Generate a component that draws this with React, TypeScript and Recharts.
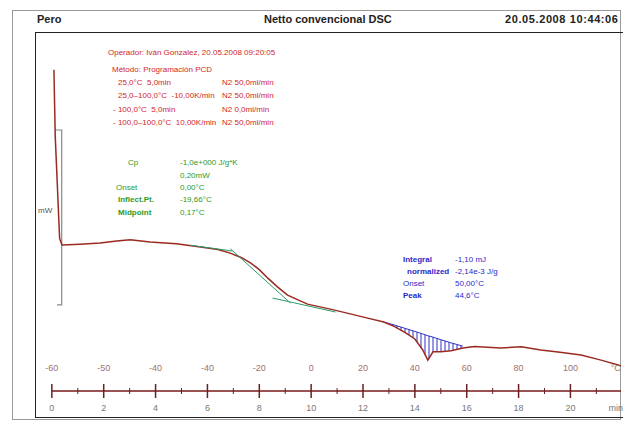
import { ComposedChart, Line, Area, XAxis, YAxis, ReferenceLine } from "recharts";

// DSC run, signal in mW against time in min
const mainTime = [0.08, 0.13, 0.3, 0.39, 1.09, 1.86, 2.5, 3.02, 3.79, 4.8, 5.73, 6.4, 6.88, 7.3, 7.66, 8.0, 8.32, 8.7, 9.09, 9.86, 10.87, 12.18, 12.8, 13.2, 13.6, 14.0, 14.3, 14.5, 14.7, 15.0, 15.4, 15.85, 16.3, 17.3, 18.1, 18.86, 19.6, 20.41, 21.18, 21.95];
const mainSignal = [6.45, 4.6, 1.75, 1.57, 1.59, 1.62, 1.68, 1.71, 1.65, 1.6, 1.51, 1.44, 1.34, 1.22, 1.07, 0.88, 0.65, 0.4, 0.17, -0.08, -0.24, -0.47, -0.58, -0.7, -0.86, -1.05, -1.35, -1.64, -1.41, -1.41, -1.38, -1.3, -1.26, -1.3, -1.27, -1.36, -1.42, -1.5, -1.64, -1.8];

// grey scale bracket at the start
const bracketTime = [0.12, 0.38, 0.38, 0.2];
const bracketSignal = [4.77, 4.77, -0.1, -0.1];

// glass transition tangents
const upperTime = [5.34, 6.96];
const upperSignal = [1.56, 1.4];
const inflTime = [6.89, 9.2];
const inflSignal = [1.46, -0.05];
const lowerTime = [8.51, 10.94];
const lowerSignal = [0.09, -0.3];

// peak integration
const peakTime = [12.8, 13.2, 13.6, 14.0, 14.3, 14.5, 14.7, 15.0, 15.4, 15.85];
const peakSignal = [-0.58, -0.7, -0.86, -1.05, -1.35, -1.64, -1.41, -1.41, -1.38, -1.3];
const peakBase = [-0.58, -0.66, -0.75, -0.84, -0.91, -0.96, -1.0, -1.07, -1.16, -1.25];

const timeTicks = [0, 1, 2, 3, 4, 5, 6, 7, 8, 9, 10, 11, 12, 13, 14, 15, 16, 17, 18, 19, 20, 21, 21.75];
const timeLabels = ["0", "2", "4", "6", "8", "10", "12", "14", "16", "18", "20", "min"];
const tempLabels = ["-60", "-50", "-40", "-40", "-20", "0", "20", "40", "60", "80", "100", "°C"];

const pts = (t: number[], v: number[]) => t.map((x, i) => ({ t: x, v: v[i] }));
const mainData = pts(mainTime, mainSignal);
const bracketData = pts(bracketTime, bracketSignal);
const upperData = pts(upperTime, upperSignal);
const inflData = pts(inflTime, inflSignal);
const lowerData = pts(lowerTime, lowerSignal);
const baseData = pts(peakTime, peakBase);
const peakData = peakTime.map((x, i) => ({ t: x, range: [peakSignal[i], peakBase[i]] }));

function TimeTick(props: any) {
  const { x, y, payload } = props;
  const v = payload.value;
  const last = v > 21;
  if (!last && v % 2 !== 0) {
    return <line x1={x} x2={x} y1={y - 3} y2={y + 3} stroke="#6a2020" />;
  }
  const idx = last ? 11 : v / 2;
  return (
    <g>
      {!last && <line x1={x} x2={x} y1={y - 7} y2={y + 7} stroke="#6a2020" strokeWidth={1.5} />}
      <text x={x} y={y - 20} textAnchor="middle" fontSize={9} fill="#a07070">
        {tempLabels[idx]}
      </text>
      <text x={x} y={y + 20} textAnchor="middle" fontSize={9} fill="#777">
        {timeLabels[idx]}
      </text>
    </g>
  );
}

const narrow = "'Liberation Sans Narrow', 'Liberation Sans', sans-serif";
const red = { color: "#d02828", fontSize: 8, position: "absolute" as const, whiteSpace: "pre" as const, fontFamily: narrow };
const green = { color: "#2a9a2a", fontSize: 8, position: "absolute" as const, whiteSpace: "pre" as const, fontFamily: narrow };
const blue = { color: "#2a2ac8", fontSize: 8, position: "absolute" as const, whiteSpace: "pre" as const, fontFamily: narrow };
const head = { fontSize: 11, fontWeight: 700, position: "absolute" as const, top: 13, color: "#222", fontFamily: narrow };

export default function App() {
  return (
    <div style={{ position: "relative", width: 623, height: 422, background: "#fff", fontFamily: "'Liberation Sans', Arial, sans-serif" }}>
      <style>{"body{margin:0}"}</style>
      <div style={{ position: "absolute", left: 12, top: 10, width: 609, height: 410, border: "1px solid #999", boxSizing: "border-box" }} />
      <div style={{ position: "absolute", left: 35, top: 32, width: 588, height: 386, border: "1.5px solid #222", borderRight: "none", boxSizing: "border-box" }} />

      <div style={{ ...head, left: 37 }}>Pero</div>
      <div style={{ ...head, left: 264 }}>Netto convencional DSC</div>
      <div style={{ ...head, left: 505, letterSpacing: 0.6 }}>20.05.2008 10:44:06</div>

      <ComposedChart width={623} height={422} data={mainData} margin={{ top: 32, right: 2, bottom: 0, left: 35 }} style={{ position: "absolute", left: 0, top: 0 }}>
        <defs>
          <pattern id="hatch" patternUnits="userSpaceOnUse" width={4} height={8}>
            <line x1={1} x2={1} y1={0} y2={8} stroke="#3030c8" strokeWidth={1} />
          </pattern>
        </defs>
        <XAxis
          type="number"
          dataKey="t"
          domain={[-0.65, 21.95]}
          allowDataOverflow
          ticks={timeTicks}
          interval={0}
          tick={<TimeTick />}
          tickLine={false}
          axisLine={false}
          tickSize={0}
          tickMargin={0}
          height={31}
        />
        <YAxis type="number" domain={[-2.5, 7.5]} hide allowDataOverflow />
        <ReferenceLine segment={[{ x: 0, y: -2.5 }, { x: 21.95, y: -2.5 }]} stroke="#7a1818" strokeWidth={1.5} />
        <Area data={peakData} dataKey="range" type="linear" stroke="none" fill="url(#hatch)" fillOpacity={1} isAnimationActive={false} />
        <Line data={baseData} dataKey="v" type="linear" stroke="#3030c8" strokeWidth={1} dot={false} isAnimationActive={false} />
        <Line data={bracketData} dataKey="v" type="linear" stroke="#888" strokeWidth={1.2} dot={false} isAnimationActive={false} />
        <Line data={mainData} dataKey="v" type="linear" stroke="#9a2a20" strokeWidth={1.5} dot={false} isAnimationActive={false} />
        <Line data={upperData} dataKey="v" type="linear" stroke="#2a9a6a" strokeWidth={1} dot={false} isAnimationActive={false} />
        <Line data={inflData} dataKey="v" type="linear" stroke="#2a9a6a" strokeWidth={1} dot={false} isAnimationActive={false} />
        <Line data={lowerData} dataKey="v" type="linear" stroke="#2a9a6a" strokeWidth={1} dot={false} isAnimationActive={false} />
      </ComposedChart>

      <div style={{ position: "absolute", left: 38, top: 206, fontSize: 8, color: "#555" }}>mW</div>

      <div style={{ ...red, left: 108, top: 48 }}>Operador: Iván Gonzalez, 20.05.2008 09:20:05</div>
      <div style={{ ...red, left: 112, top: 65 }}>Método: Programación PCD</div>
      <div style={{ ...red, left: 118, top: 78 }}>25,0°C  5,0min</div>
      <div style={{ ...red, left: 222, top: 78 }}>N2 50,0ml/min</div>
      <div style={{ ...red, left: 118, top: 91 }}>25,0–100,0°C  -10,00K/min</div>
      <div style={{ ...red, left: 222, top: 91 }}>N2 50,0ml/min</div>
      <div style={{ ...red, left: 113, top: 105 }}>- 100,0°C  5,0min</div>
      <div style={{ ...red, left: 222, top: 105 }}>N2 0,0ml/min</div>
      <div style={{ ...red, left: 113, top: 118 }}>- 100,0–100,0°C  10,00K/min</div>
      <div style={{ ...red, left: 222, top: 118 }}>N2 50,0ml/min</div>

      <div style={{ ...green, left: 128, top: 158 }}>Cp</div>
      <div style={{ ...green, left: 180, top: 158 }}>-1,0e+000 J/g*K</div>
      <div style={{ ...green, left: 180, top: 171 }}>0,20mW</div>
      <div style={{ ...green, left: 116, top: 183 }}>Onset</div>
      <div style={{ ...green, left: 180, top: 183 }}>0,00°C</div>
      <div style={{ ...green, left: 118, top: 195, fontWeight: 700 }}>Inflect.Pt.</div>
      <div style={{ ...green, left: 180, top: 195 }}>-19,66°C</div>
      <div style={{ ...green, left: 118, top: 208, fontWeight: 700 }}>Midpoint</div>
      <div style={{ ...green, left: 180, top: 208 }}>0,17°C</div>

      <div style={{ ...blue, left: 403, top: 255, fontWeight: 700 }}>Integral</div>
      <div style={{ ...blue, left: 455, top: 255 }}>-1,10 mJ</div>
      <div style={{ ...blue, left: 407, top: 267, fontWeight: 700 }}>normalized</div>
      <div style={{ ...blue, left: 455, top: 267 }}>-2,14e-3 J/g</div>
      <div style={{ ...blue, left: 403, top: 279 }}>Onset</div>
      <div style={{ ...blue, left: 455, top: 279 }}>50,00°C</div>
      <div style={{ ...blue, left: 403, top: 291, fontWeight: 700 }}>Peak</div>
      <div style={{ ...blue, left: 455, top: 291 }}>44,6°C</div>
    </div>
  );
}
